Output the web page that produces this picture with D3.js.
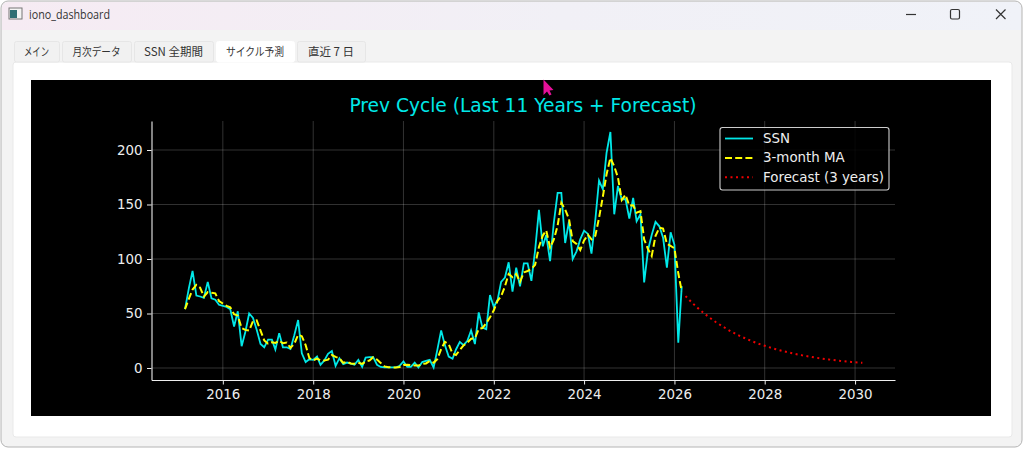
<!DOCTYPE html>
<html>
<head>
<meta charset="utf-8">
<title>iono_dashboard</title>
<script src="https://cdn.jsdelivr.net/npm/d3@7"></script>
<style>
	html, body { margin: 0; padding: 0; background: #fff; overflow: hidden; }
	svg { display: block; }
	.ui { font-family: "Noto Sans CJK JP", "Noto Sans", sans-serif; font-size: 11.5px; fill: #333; }
	.chartText { font-family: "DejaVu Sans", sans-serif; }
</style>
</head>
<body>
<script>
"use strict";

// Values
let tabNames = ["メイン", "月次データ", "SSN 全期間", "サイクル予測", "直近 7 日"];
let yearTicks = [2016, 2018, 2020, 2022, 2024, 2026, 2028, 2030];
let valueTicks = [0, 50, 100, 150, 200];
let legendNames = ["SSN", "3-month MA", "Forecast (3 years)"];

// monthly, Mar 2015 to Mar 2026
let ssnValues = [
	54, 73, 89, 66.5, 65.6, 64.4, 79, 64, 62.6, 58,
	57, 56, 54, 38, 52, 20, 33, 50, 46, 35,
	22, 19, 26, 26, 17, 32, 19, 19, 17.5, 30,
	44, 13.5, 5.5, 8, 7.5, 10.5, 3, 7, 13, 15.6,
	2, 9, 3.5, 5, 4, 3, 7.5, 1, 9.5, 10,
	10, 3, 1, 0.5, 0.5, 0.5, 0.5, 2, 6, 1,
	1, 5, 0.5, 5.5, 6.5, 7.5, 0.5, 16.6, 34.5, 21,
	10.5, 8.5, 17, 24, 21, 25, 34.5, 22, 51, 37,
	35.6, 67, 56, 62.6, 79, 83, 97, 70, 92, 75,
	96, 96, 80, 108, 145, 111.6, 122, 98, 133, 160.7,
	160.7, 114.7, 134.6, 100, 107, 118, 126, 123, 105, 136,
	172, 164, 197.5, 216.5, 141, 167, 154.6, 155, 137, 156,
	134.6, 141, 78.5, 108, 122, 134, 130, 119.6, 92, 124.5,
	113, 23.3, 75
];

let maValues = [
	54, 63.5, 72, 76.2, 73.7, 65.5, 69.7, 69.1, 68.5, 61.5,
	59.2, 57, 55.7, 49.3, 48, 36.7, 35, 34.3, 43, 43.7,
	34.3, 25.3, 22.3, 23.7, 23, 25, 22.7, 23.3, 18.5, 22.2,
	30.5, 29.2, 21, 9, 7, 8.7, 7, 6.8, 7.7, 11.9,
	10.2, 8.9, 4.8, 5.8, 4.2, 4, 4.8, 3.8, 6, 6.8,
	9.8, 7.7, 4.7, 1.5, 0.7, 0.5, 0.5, 1, 2.8, 3,
	2.7, 2.3, 2.2, 3.7, 4.2, 6.5, 4.8, 8.2, 17.2, 24,
	22, 13.3, 12, 16.5, 20.7, 23.3, 26.8, 27.2, 35.8, 36.7,
	41.2, 46.5, 52.9, 61.9, 65.9, 74.9, 86.3, 83.3, 86.3, 79,
	87.7, 89, 90.7, 94.7, 111, 121.5, 126.2, 110.5, 117.7, 130.6,
	151.5, 145.4, 136.7, 116.4, 113.9, 108.3, 117, 122.3, 118, 121.3,
	137.7, 157.3, 177.8, 192.7, 185, 174.8, 154.2, 158.9, 148.9, 149.3,
	142.5, 143.9, 118, 109.2, 102.8, 121.3, 128.7, 127.9, 113.9, 112,
	109.8, 86.9, 70.4
];

// monthly, Apr 2026 to Mar 2030
let forecastValues = [
	66, 62.4, 59, 55.8, 52.8, 49.9, 47.2, 44.6, 42.2, 39.9,
	37.7, 35.7, 33.7, 31.9, 30.1, 28.5, 27, 25.5, 24.1, 22.8,
	21.5, 20.4, 19.3, 18.2, 17.2, 16.3, 15.4, 14.6, 13.8, 13,
	12.3, 11.6, 11, 10.4, 9.8, 9.3, 8.8, 8.3, 7.9, 7.4,
	7, 6.6, 6.3, 5.9, 5.6, 5.3, 5, 4.8
];

let ssnDates = d3.utcMonth.range(new Date(Date.UTC(2015, 2, 1)), new Date(Date.UTC(2026, 3, 1)));
let forecastDates = d3.utcMonth.range(new Date(Date.UTC(2026, 3, 1)), new Date(Date.UTC(2030, 3, 1)));

let svg = d3.select("body").append("svg")
	.attr("width", 1024)
	.attr("height", 450);

drawWindow();
drawChart();
drawCursor();


// Window frame, title bar and tabs
function drawWindow () {

	let defs = svg.append("defs");
	let titleGrad = defs.append("linearGradient").attr("id", "titleGrad");
	titleGrad.append("stop").attr("offset", "0%").attr("stop-color", "#f6ebf3");
	titleGrad.append("stop").attr("offset", "55%").attr("stop-color", "#f1f0f6");
	titleGrad.append("stop").attr("offset", "100%").attr("stop-color", "#f0f2f8");

	svg.append("rect")
		.attr("x", 1).attr("y", 1)
		.attr("width", 1021).attr("height", 446)
		.attr("rx", 7)
		.attr("fill", "#f3f3f3")
		.attr("stroke", "#b4b4b4");

	svg.append("path")
		.attr("d", "M2,30V8a6,6 0 0 1 6,-6H1015a6,6 0 0 1 6,6V30Z")
		.attr("fill", "url(#titleGrad)");

	// app icon
	svg.append("rect").attr("x", 9).attr("y", 8).attr("width", 13).attr("height", 11)
		.attr("fill", "#f4f4f4").attr("stroke", "#777");
	svg.append("rect").attr("x", 10).attr("y", 10).attr("width", 7).attr("height", 8)
		.attr("fill", "#2f6f74");

	svg.append("text")
		.attr("class", "ui")
		.attr("x", 29).attr("y", 19)
		.attr("textLength", 81)
		.attr("lengthAdjust", "spacingAndGlyphs")
		.style("font-family", "'Open Sans', sans-serif")
		.style("font-size", "12px")
		.text("iono_dashboard");

	// window buttons
	let btn = svg.append("g").attr("fill", "none").attr("stroke", "#333").attr("stroke-width", 1.2);
	btn.append("path").attr("d", "M906,14.5H916");
	btn.append("rect").attr("x", 950.5).attr("y", 9.5).attr("width", 9).attr("height", 9.5).attr("rx", 1.5);
	btn.append("path").attr("d", "M996,9.5L1005.5,19M1005.5,9.5L996,19");

	// content panel
	svg.append("rect")
		.attr("x", 13).attr("y", 62)
		.attr("width", 999).attr("height", 375)
		.attr("rx", 3)
		.attr("fill", "#fff")
		.attr("stroke", "#e9e9e9");

	let tabLeft = [14, 62, 134, 216, 297],
		tabRight = [59, 131, 213, 294, 365],
		labelWidth = [25, 48, 59, 58, 46];

	tabNames.forEach(function (name, i) {
		let selected = i === 3;
		svg.append("rect")
			.attr("x", tabLeft[i] + 0.5).attr("y", 41.5)
			.attr("width", tabRight[i] - tabLeft[i]).attr("height", 20.5)
			.attr("rx", 2)
			.attr("fill", selected ? "#fff" : "#f1f1f1")
			.attr("stroke", selected ? "#fff" : "#e6e6e6");
		svg.append("text")
			.attr("class", "ui")
			.attr("x", (tabLeft[i] + tabRight[i]) / 2)
			.attr("y", 56)
			.attr("text-anchor", "middle")
			.attr("textLength", labelWidth[i])
			.attr("lengthAdjust", "spacingAndGlyphs")
			.text(name);
	});
}


function drawChart () {

	svg.append("rect")
		.attr("x", 31).attr("y", 80)
		.attr("width", 960).attr("height", 336)
		.attr("fill", "#000");

	let xScale = d3.scaleUtc()
		.domain([new Date(Date.UTC(2014, 5, 3)), new Date(Date.UTC(2030, 10, 20))])
		.range([151.5, 895]);

	let yScale = d3.scaleLinear()
		.domain([-11, 226.6])
		.range([380, 121]);

	let yearDate = function (y) { return new Date(Date.UTC(y, 0, 1)); };

	// grid
	let grid = svg.append("g").attr("stroke", "#fff").attr("stroke-opacity", 0.22).attr("stroke-width", 0.9);
	yearTicks.forEach(function (y) {
		grid.append("line")
			.attr("x1", xScale(yearDate(y))).attr("x2", xScale(yearDate(y)))
			.attr("y1", 121).attr("y2", 380);
	});
	valueTicks.forEach(function (v) {
		grid.append("line")
			.attr("x1", 151.5).attr("x2", 895)
			.attr("y1", yScale(v)).attr("y2", yScale(v));
	});

	// axes
	let xAxis = d3.axisBottom(xScale)
		.tickValues(yearTicks.map(yearDate))
		.tickFormat(d3.utcFormat("%Y"))
		.tickSize(4.5)
		.tickPadding(4.5)
		.tickSizeOuter(0);

	let yAxis = d3.axisLeft(yScale)
		.tickValues(valueTicks)
		.tickSize(4.5)
		.tickPadding(4.5)
		.tickSizeOuter(0);

	let xG = svg.append("g").attr("transform", "translate(0,380)").call(xAxis);
	let yG = svg.append("g").attr("transform", "translate(151.5,0)").call(yAxis);

	[xG, yG].forEach(function (g) {
		g.attr("class", "chartText").style("font-size", "13.4px");
		g.selectAll("text").attr("fill", "#eee").style("font-family", "'DejaVu Sans', sans-serif");
		g.selectAll("line").attr("stroke", "#eee");
		g.select(".domain").attr("stroke", "#eee").attr("stroke-width", 1.1);
	});

	// lines
	let line = d3.line()
		.x(function (d) { return xScale(d[0]); })
		.y(function (d) { return yScale(d[1]); });

	svg.append("path")
		.datum(d3.zip(ssnDates, ssnValues))
		.attr("fill", "none")
		.attr("stroke", "#00e8e8")
		.attr("stroke-width", 1.8)
		.attr("d", line);

	svg.append("path")
		.datum(d3.zip(ssnDates, maValues))
		.attr("fill", "none")
		.attr("stroke", "#ffff00")
		.attr("stroke-width", 2)
		.attr("stroke-dasharray", "7,3.2")
		.attr("d", line);

	svg.append("path")
		.datum(d3.zip(forecastDates, forecastValues))
		.attr("fill", "none")
		.attr("stroke", "#f00000")
		.attr("stroke-width", 2)
		.attr("stroke-dasharray", "2,3.5")
		.attr("d", line);

	// title
	svg.append("text")
		.attr("class", "chartText")
		.attr("x", 523).attr("y", 112)
		.attr("text-anchor", "middle")
		.attr("fill", "#00e8e8")
		.style("font-size", "18.6px")
		.text("Prev Cycle (Last 11 Years + Forecast)");

	// legend
	svg.append("rect")
		.attr("x", 720).attr("y", 127.5)
		.attr("width", 169).attr("height", 62.5)
		.attr("rx", 2.5)
		.attr("fill", "#000").attr("fill-opacity", 0.85)
		.attr("stroke", "#ccc").attr("stroke-width", 1.1);

	let legendStyle = [
		{ color: "#00e8e8", dash: null, width: 1.8 },
		{ color: "#ffff00", dash: "7,3.2", width: 2 },
		{ color: "#f00000", dash: "2,3.5", width: 2 }
	];

	legendNames.forEach(function (name, i) {
		let rowY = 138.5 + i * 19.4;
		svg.append("line")
			.attr("x1", 725).attr("x2", 753)
			.attr("y1", rowY).attr("y2", rowY)
			.attr("stroke", legendStyle[i].color)
			.attr("stroke-width", legendStyle[i].width)
			.attr("stroke-dasharray", legendStyle[i].dash);
		svg.append("text")
			.attr("class", "chartText")
			.attr("x", 763).attr("y", rowY + 4.5)
			.attr("fill", "#eee")
			.style("font-size", "13.4px")
			.text(name);
	});
}


// Mouse pointer caught in the screenshot
function drawCursor () {
	svg.append("path")
		.attr("d", "M543.5,79.5L543.5,95L547,91.5L549.5,95.5L551.5,94.5L549.5,90.5L553.5,90Z")
		.attr("fill", "#e6109a");
}
</script>
</body>
</html>
